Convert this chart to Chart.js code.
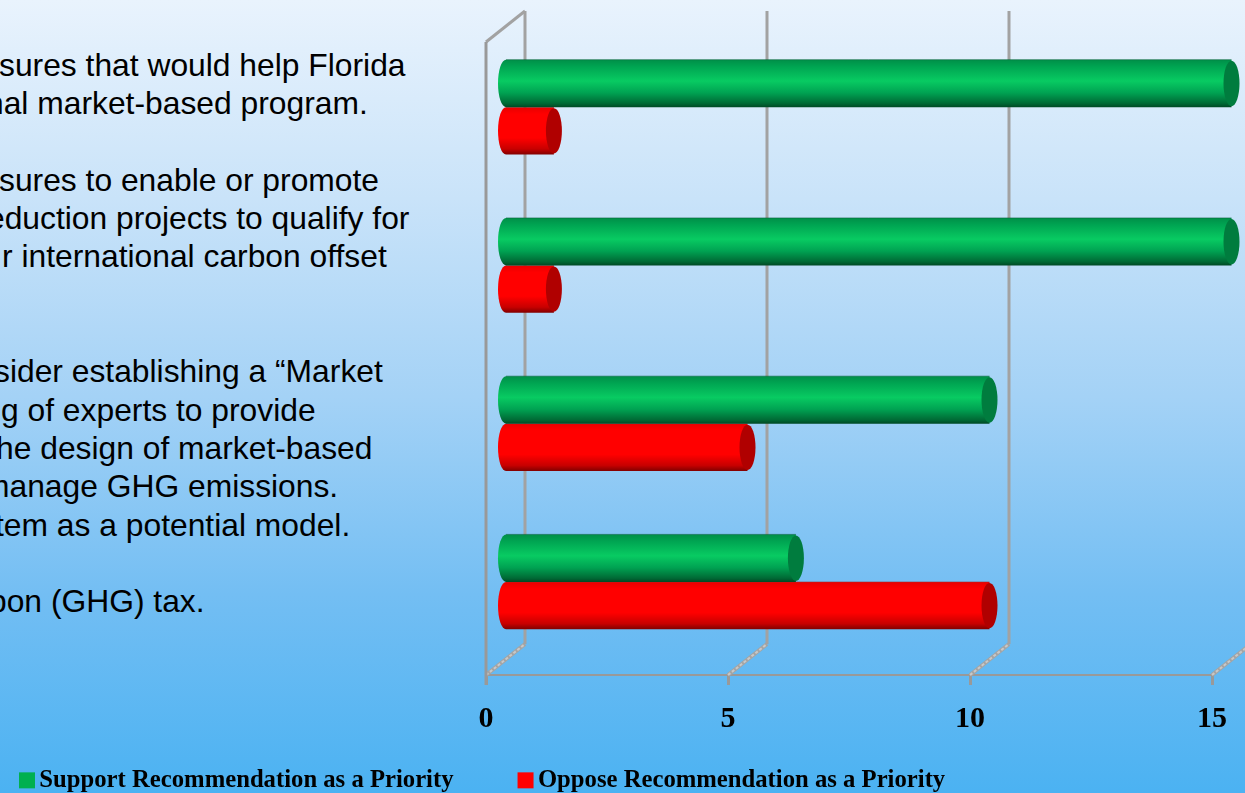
<!DOCTYPE html>
<html>
<head>
<meta charset="utf-8">
<script src="https://cdn.jsdelivr.net/npm/chart.js@4"></script>
<style>
html, body { margin: 0; padding: 0; }
body {
    position: relative; width: 1245px; height: 793px; overflow: hidden;
    background: linear-gradient(to bottom, #e9f3fd 0%, #c9e3f9 25%, #a4d2f6 50%, #73bef3 75%, #4bb2f2 100%);
}
#chart { position: absolute; left: 0; top: 0; }
#notes { position: absolute; left: 0; top: 46px; font: 31.8px/38.3px "Liberation Sans", sans-serif; color: #000; white-space: nowrap; }
#notes div { height: 38.3px; }
</style>
</head>
<body>
<div id="notes"></div>
<canvas id="chart" width="1245" height="793"></canvas>
<script>
// slide text, cut off by the left edge of the slide in the original
const noteLines = [
    "sures that would help Florida",
    "nal market-based program.",
    "",
    "sures to enable or promote",
    "eduction projects to qualify for",
    "r international carbon offset",
    "",
    "",
    "sider establishing a “Market",
    "g of experts to provide",
    "he design of market-based",
    "manage GHG emissions.",
    "tem as a potential model.",
    "",
    "bon (GHG) tax."
]
const noteIndents = [-1, -14, 0, -1, -13, 2, 0, 0, -6, 1, -4, -17, -5, 0, -11]
const categories = ["Florida measures", "Offset projects", "Market advisory group", "Carbon (GHG) tax"]
const supportValues = [15, 15, 10, 6]
const opposeValues = [1, 1, 5, 10]
const xTicks = [0, 5, 10, 15]

const notes = document.getElementById("notes")
noteLines.forEach((text, i) => {
    const d = document.createElement("div")
    d.textContent = text
    d.style.marginLeft = noteIndents[i] + "px"
    notes.appendChild(d)
})

// depth of the fake 3d box, in pixels
const depthX = 39, depthY = 31
const barLiftY = 14
const capRx = 8
const gridGrey = "#a2a2a2"

function line(ctx, x1, y1, x2, y2, color, width) {
    ctx.beginPath()
    ctx.moveTo(x1, y1)
    ctx.lineTo(x2, y2)
    ctx.strokeStyle = color
    ctx.lineWidth = width
    ctx.stroke()
}

function drawWalls(chart) {
    const ctx = chart.ctx, area = chart.chartArea, sx = chart.scales.x
    xTicks.forEach(t => {
        const x = sx.getPixelForValue(t)
        line(ctx, x, area.bottom, x + depthX, area.bottom - depthY, "#a4a4a4", 4)
        ctx.setLineDash([3, 2])
        line(ctx, x, area.bottom, x + depthX, area.bottom - depthY, "#c8c8c8", 2)
        ctx.setLineDash([])
        if (x + depthX < chart.width) {
            line(ctx, x + depthX, area.top - depthY, x + depthX, area.bottom - depthY, gridGrey, 3)
        }
    })
    line(ctx, area.left, area.top, area.left + depthX, area.top - depthY, gridGrey, 3)
    line(ctx, area.left, area.top, area.left, area.bottom + 10, "#999999", 3)
}

function drawCylinder(ctx, el, stops, capColor, edge) {
    const x0 = el.base + depthX / 2
    const x1 = el.x + depthX / 2
    const top = el.y - el.height / 2 - barLiftY
    const bottom = el.y + el.height / 2 - barLiftY
    const cy = (top + bottom) / 2, ry = el.height / 2

    const g = ctx.createLinearGradient(0, top, 0, bottom)
    stops.forEach(s => g.addColorStop(s[0], s[1]))

    ctx.beginPath()
    ctx.moveTo(x0, top)
    ctx.lineTo(x1, top)
    ctx.lineTo(x1, bottom)
    ctx.lineTo(x0, bottom)
    ctx.ellipse(x0, cy, capRx, ry, 0, Math.PI / 2, Math.PI * 1.5)
    ctx.closePath()
    ctx.fillStyle = g
    ctx.fill()

    line(ctx, x0, top, x1, top, edge, 1)

    ctx.beginPath()
    ctx.ellipse(x1, cy, capRx, ry - 1, 0, 0, Math.PI * 2)
    ctx.fillStyle = capColor
    ctx.fill()
}

const greenStops = [[0, "#008f48"], [0.15, "#00a552"], [0.45, "#08cb62"], [0.7, "#00a252"], [0.92, "#006a35"], [1, "#004a25"]]
const redStops = [[0, "#e80000"], [0.15, "#ff0000"], [0.65, "#ff0000"], [0.88, "#c80000"], [1, "#800000"]]

const box3d = {
    id: "box3d",
    afterLayout(chart) {
        // legend sits further left than the chart's centre
        chart.legend.left = -45
        chart.legend.right = chart.width
        chart.legend.top = 696
        chart.legend.bottom = chart.height
    },
    beforeDatasetsDraw(chart) {
        const ctx = chart.ctx
        ctx.save()
        drawWalls(chart)
        chart.getDatasetMeta(1).data.forEach(el => drawCylinder(ctx, el, redStops, "#b00000", "rgba(150,60,60,0.5)"))
        chart.getDatasetMeta(0).data.forEach(el => drawCylinder(ctx, el, greenStops, "#007c3e", "rgba(0,90,50,0.5)"))
        ctx.restore()
        return false
    }
}

new Chart(document.getElementById("chart"), {
    type: "bar",
    data: {
        labels: categories,
        datasets: [
            { label: "Support Recommendation as a Priority", data: supportValues, backgroundColor: "#00b050" },
            { label: "Oppose Recommendation as a Priority", data: opposeValues, backgroundColor: "#ff0000" }
        ]
    },
    plugins: [box3d],
    options: {
        indexAxis: "y",
        responsive: false,
        animation: false,
        categoryPercentage: 0.6,
        barPercentage: 1,
        layout: { padding: { left: 486, right: 33, top: 42, bottom: 20 } },
        scales: {
            x: {
                min: 0,
                max: 15,
                afterBuildTicks: axis => { axis.ticks = xTicks.map(v => ({ value: v })) },
                grid: { drawOnChartArea: false, drawTicks: true, tickLength: 10, tickColor: "#999999", tickWidth: 3 },
                border: { color: "#999999", width: 2 },
                ticks: {
                    padding: 16,
                    color: "#000",
                    maxRotation: 0,
                    font: { family: "Liberation Serif", weight: "bold", size: 30 }
                }
            },
            y: { display: false }
        },
        plugins: {
            tooltip: { enabled: false },
            legend: {
                position: "bottom",
                align: "start",
                maxHeight: 20,
                labels: {
                    usePointStyle: true,
                    pointStyle: "rect",
                    boxWidth: 0.01,
                    boxHeight: 16,
                    padding: 72,
                    color: "#000",
                    font: { family: "Liberation Serif", weight: "bold", size: 24.7 }
                }
            }
        }
    }
})
</script>
</body>
</html>
